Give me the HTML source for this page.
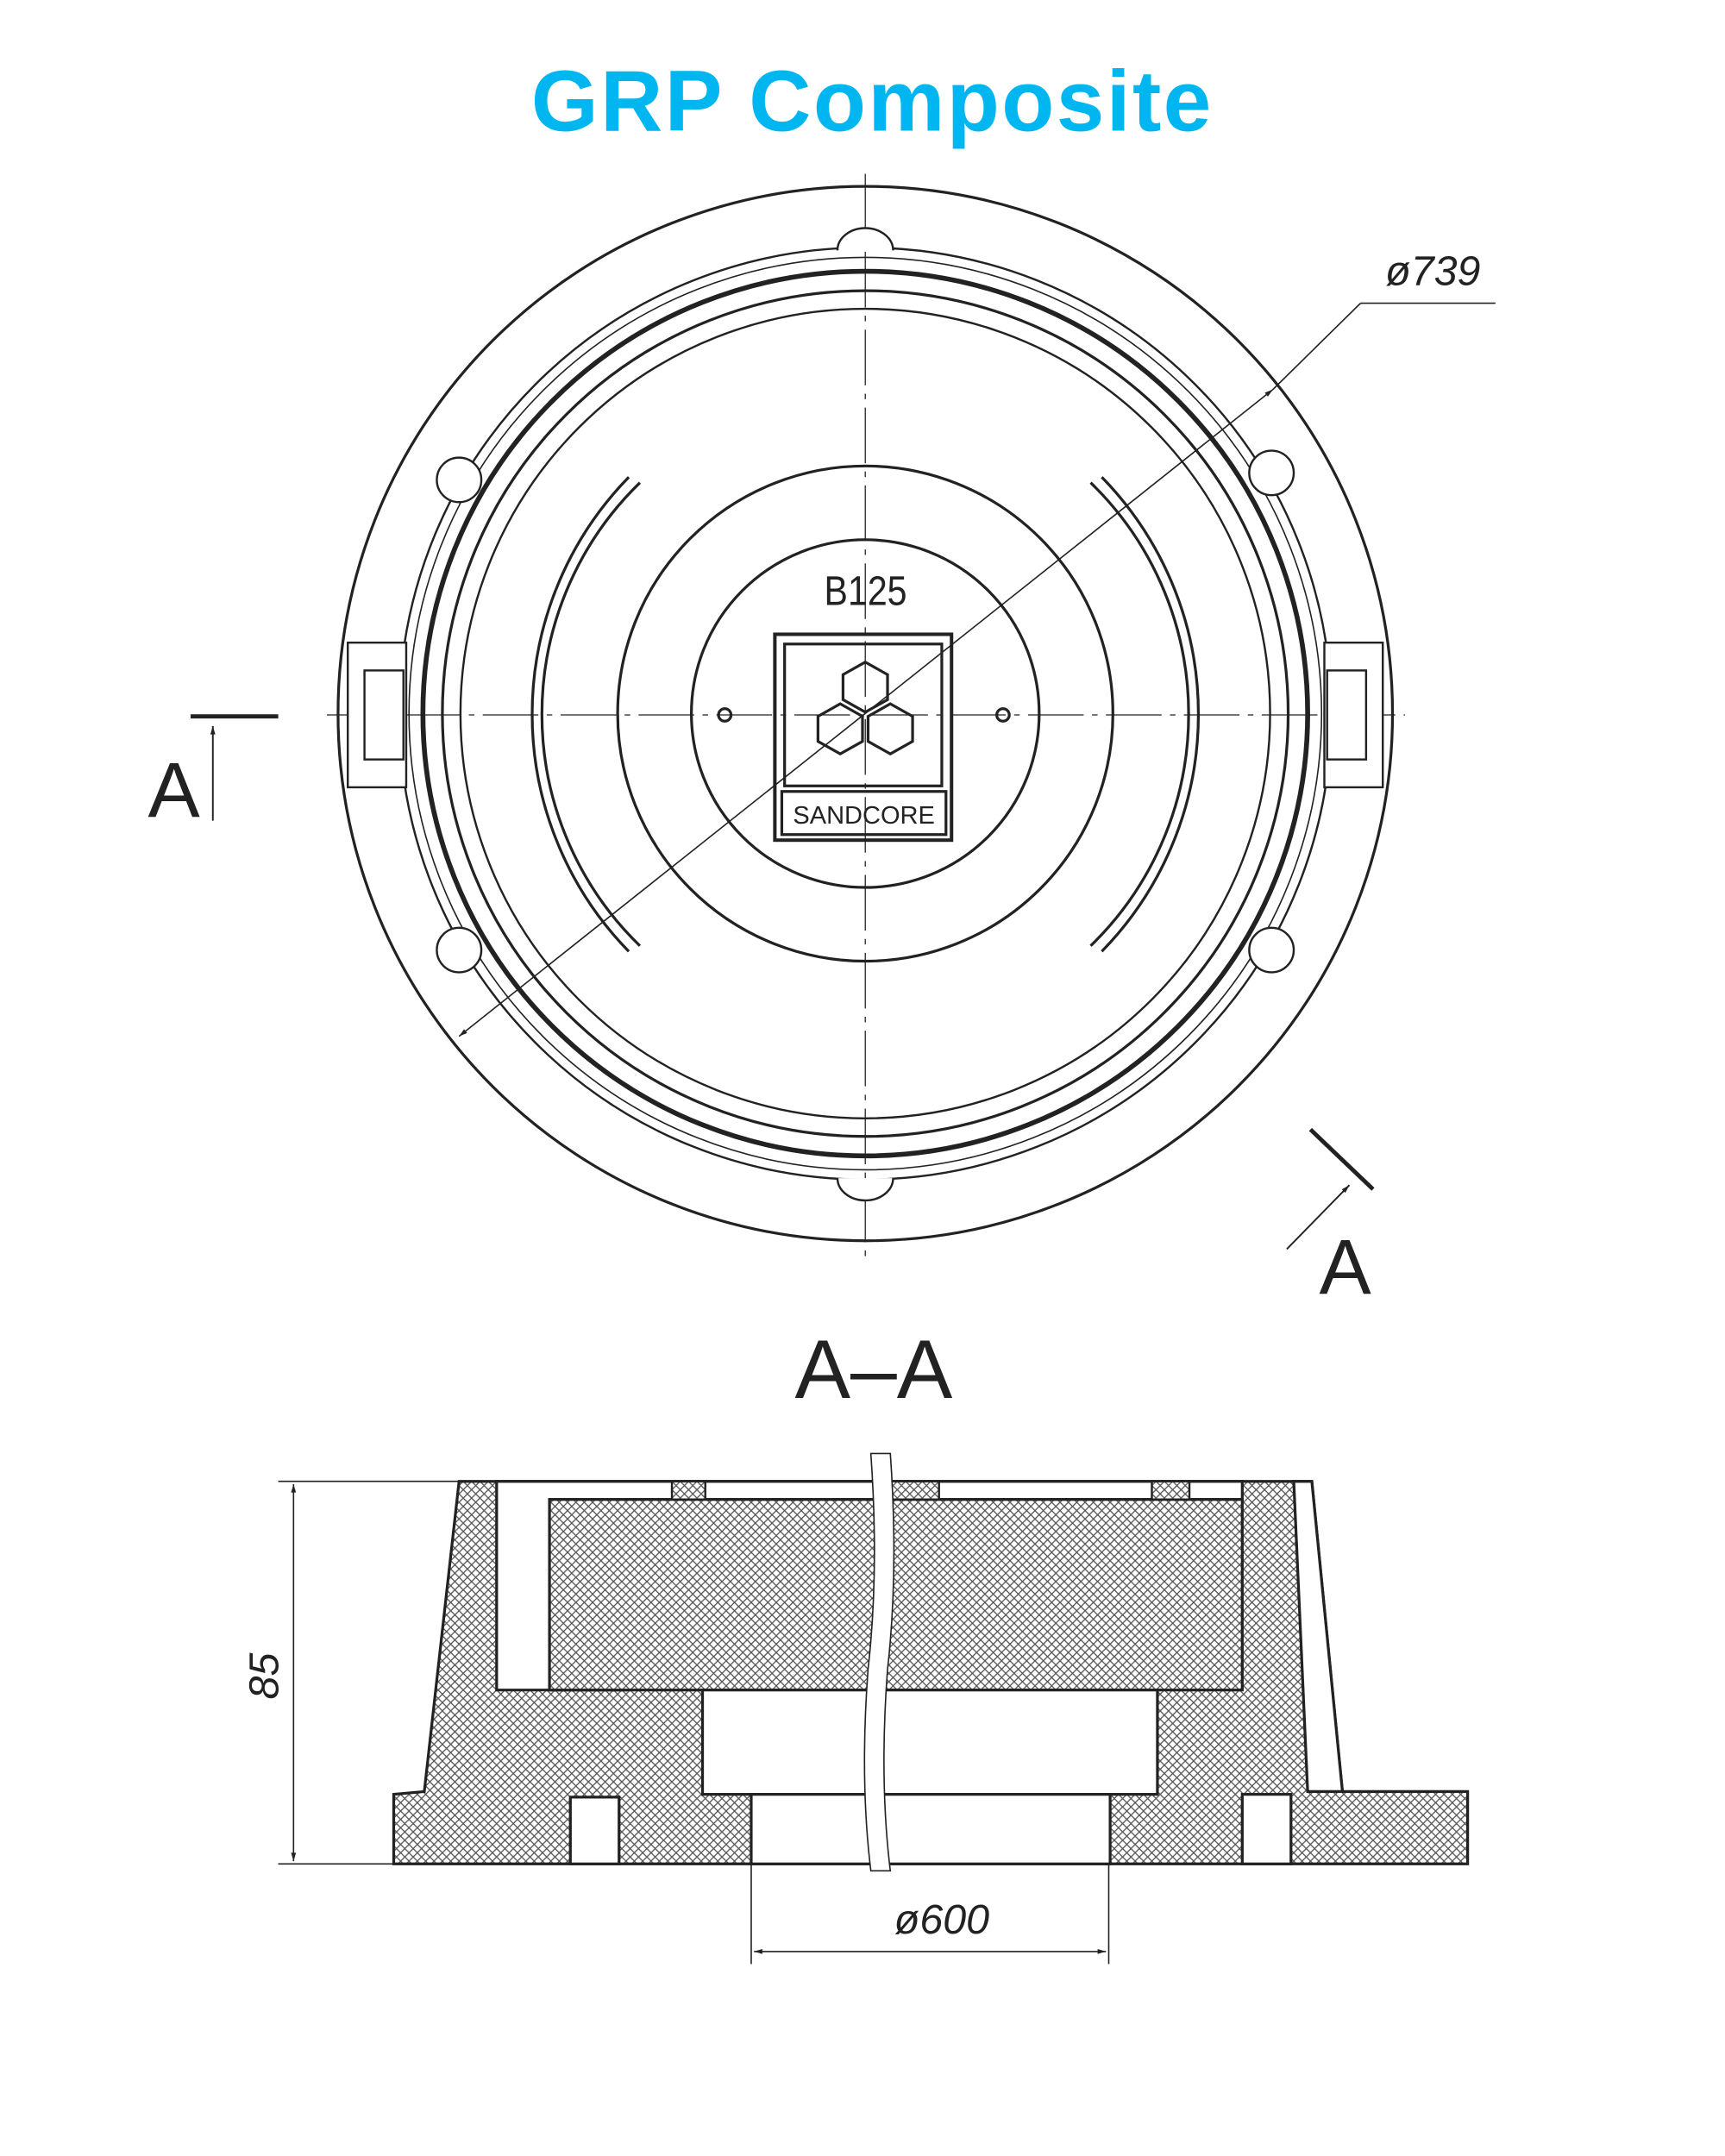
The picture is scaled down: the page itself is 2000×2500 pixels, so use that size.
<!DOCTYPE html>
<html><head><meta charset="utf-8"><style>
html,body{margin:0;padding:0;background:#fff;}
svg{display:block;}
</style></head><body>
<svg width="2000" height="2500" viewBox="0 0 1240 1550" xmlns="http://www.w3.org/2000/svg">
<defs>
<pattern id="h" width="6" height="6" patternUnits="userSpaceOnUse">
<rect width="6" height="6" fill="#fff"/>
<path d="M0,0 L6,6 M6,0 L0,6" stroke="#555" stroke-width="0.8"/>
</pattern>
<marker id="ar" viewBox="0 0 10 10" refX="10" refY="5" markerWidth="10" markerHeight="6" orient="auto-start-reverse" markerUnits="userSpaceOnUse">
<path d="M0,2 L10,5 L0,8 z" fill="#222"/></marker>
</defs>
<text x="627" y="94" text-anchor="middle" font-family="Liberation Sans, sans-serif" font-weight="bold" font-size="62" letter-spacing="1.5" fill="#00b6f0">GRP Composite</text>

<g fill="none" stroke="#222" stroke-width="2">
<g stroke-width="0.8" stroke-dasharray="40 6 4 6">
<line x1="622" y1="125" x2="622" y2="905"/>
<line x1="235" y1="514" x2="1010" y2="514"/>
</g>
<circle cx="622" cy="513" r="379"/>
<circle cx="622" cy="513" r="335" stroke-width="1.5"/>
<circle cx="622" cy="513" r="328" stroke-width="1"/>
<circle cx="622" cy="513" r="318" stroke-width="3.5"/>
<circle cx="622" cy="513" r="304" stroke-width="2"/>
<circle cx="622" cy="513" r="291" stroke-width="1.5"/>
<circle cx="622" cy="513" r="178"/>
<circle cx="622" cy="513" r="125"/>
<g stroke-width="1.5" fill="#fff">
<path d="M602,180 a20,16 0 0 1 40,0"/>
<path d="M602,847 a20,16 0 0 0 40,0"/>
<circle cx="330" cy="345" r="16"/><circle cx="914" cy="340" r="16"/>
<circle cx="330" cy="683" r="16"/><circle cx="914" cy="683" r="16"/>
<rect x="250" y="462" width="42" height="104"/>
<rect x="952" y="462" width="42" height="104"/>
</g>
<g stroke-width="1.5"><rect x="262" y="482" width="28" height="64"/><rect x="954" y="482" width="28" height="64"/></g>
<g stroke-width="2">
<path d="M460,347 A232,232 0 0 0 460,680"/>
<path d="M452,343 A244,244 0 0 0 452,684"/>
<path d="M784,347 A232,232 0 0 1 784,680"/>
<path d="M792,343 A244,244 0 0 1 792,684"/>
</g>
<circle cx="521" cy="514" r="4.5"/><circle cx="721" cy="514" r="4.5"/>
<rect x="557" y="456" width="127" height="148" stroke-width="2.5"/>
<rect x="564" y="463" width="113" height="102"/>
<rect x="562" y="569" width="118" height="31"/>
<g stroke-width="2">
<path d="M622,476 l16,9 v18 l-16,9 l-16,-9 v-18z"/>
<path d="M604,506 l16,9 v18 l-16,9 l-16,-9 v-18z"/>
<path d="M640,506 l16,9 v18 l-16,9 l-16,-9 v-18z"/>
</g>
<line x1="330" y1="745" x2="915" y2="280" stroke-width="1" marker-start="url(#ar)" marker-end="url(#ar)"/>
<line x1="915" y1="280" x2="978" y2="218" stroke-width="1"/>
<line x1="978" y1="218" x2="1075" y2="218" stroke-width="1"/>
<line x1="137" y1="515" x2="200" y2="515" stroke-width="3"/>
<line x1="153" y1="590" x2="153" y2="522" stroke-width="1.2" marker-end="url(#ar)"/>
<line x1="942" y1="812" x2="987" y2="855" stroke-width="3"/>
<line x1="925" y1="898" x2="970" y2="852" stroke-width="1.2" marker-end="url(#ar)"/>
</g>
<g font-family="Liberation Sans, sans-serif" fill="#222">
<text x="622" y="435" text-anchor="middle" font-size="30" transform="scale(0.85,1) translate(110,0)">B125</text>
<text x="621" y="592" text-anchor="middle" font-size="18">SANDCORE</text>
<text x="1030" y="205" text-anchor="middle" font-size="30" font-style="italic">ø739</text>
<text x="125" y="587" text-anchor="middle" font-size="56">A</text>
<text x="967" y="930" text-anchor="middle" font-size="56">A</text>
<text x="628" y="1005" text-anchor="middle" font-size="60">A–A</text>
</g>

<g stroke="#222" stroke-width="2">
<path d="M330,1065 L943,1065 L965,1288 L1055,1288 L1055,1340 L283,1340 L283,1290 L305,1288 Z" fill="url(#h)"/>
<g fill="#fff">
<path d="M357,1065 L893,1065 L893,1078 L395,1078 L395,1150 L450,1200 L450,1215 L357,1215 Z"/>
<rect x="395" y="1078" width="498" height="137" fill="url(#h)"/>
<path d="M930,1065 L943,1065 L965,1288 L940,1288 Z"/>
<rect x="505" y="1215" width="327" height="75"/>
<rect x="540" y="1290" width="258" height="50"/>
<rect x="410" y="1292" width="35" height="48"/>
<rect x="893" y="1290" width="35" height="50"/>
</g>
<g fill="url(#h)" stroke-width="1.5">
<rect x="483" y="1065" width="24" height="13"/>
<rect x="640" y="1065" width="35" height="13"/>
<rect x="828" y="1065" width="27" height="13"/>
</g>
<path d="M626,1045 Q632,1130 624,1200 Q618,1280 626,1345 L640,1345 Q632,1280 638,1200 Q646,1130 640,1045 Z" fill="#fff" stroke-width="1"/>
</g>
<g stroke="#222" stroke-width="1" fill="none">
<line x1="200" y1="1065" x2="330" y2="1065"/>
<line x1="200" y1="1340" x2="283" y2="1340"/>
<line x1="211" y1="1067" x2="211" y2="1338" marker-start="url(#ar)" marker-end="url(#ar)"/>
<line x1="540" y1="1340" x2="540" y2="1412"/>
<line x1="797" y1="1340" x2="797" y2="1412"/>
<line x1="542" y1="1403" x2="795" y2="1403" marker-start="url(#ar)" marker-end="url(#ar)"/>
</g>
<g font-family="Liberation Sans, sans-serif" fill="#222" font-style="italic" font-size="30">
<text x="0" y="0" transform="translate(200,1205) rotate(-90)" text-anchor="middle">85</text>
<text x="677" y="1390" text-anchor="middle">ø600</text>
</g>
</svg>
</body></html>
